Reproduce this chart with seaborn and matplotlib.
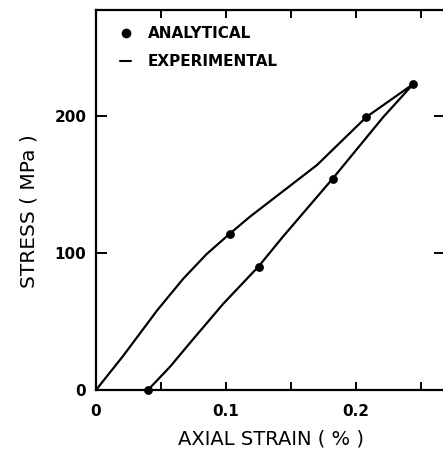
import matplotlib
matplotlib.use("Agg")
import matplotlib.pyplot as plt
import seaborn as sns
import pandas as pd
from matplotlib.lines import Line2D
from matplotlib.ticker import MultipleLocator

# experimental loop (loading branch then unloading branch)
load_strain = [0.0, 0.021, 0.047, 0.067, 0.085, 0.103, 0.118, 0.144, 0.170, 0.208, 0.244]
load_stress = [0, 25, 58, 81, 99, 114, 126, 145, 164, 199, 223]
unload_strain = [0.244, 0.221, 0.182, 0.144, 0.125, 0.098, 0.072, 0.057, 0.040]
unload_stress = [223, 199, 154, 112, 90, 63, 34, 17, 0]

# analytical points
ana_strain = [0.103, 0.208, 0.244, 0.182, 0.125, 0.040]
ana_stress = [114, 199, 223, 154, 90, 0]

exp_df = pd.DataFrame({
    "strain": load_strain + unload_strain,
    "stress": load_stress + unload_stress,
})
ana_df = pd.DataFrame({"strain": ana_strain, "stress": ana_stress})

sns.set_style("ticks")
plt.rcParams["font.family"] = ["DejaVu Sans"]
plt.rcParams["text.color"] = "black"
plt.rcParams["axes.labelcolor"] = "black"
plt.rcParams["xtick.color"] = "black"
plt.rcParams["ytick.color"] = "black"

fig = plt.figure(figsize=(4.43, 4.54), dpi=100)
ax = fig.add_axes([96 / 443, 64 / 454, 349 / 443, 380 / 454])

sns.lineplot(data=exp_df, x="strain", y="stress", sort=False,
             estimator=None, color="black", linewidth=1.6, ax=ax)
sns.scatterplot(data=ana_df, x="strain", y="stress", color="black",
                s=40, edgecolor="black", linewidth=0, zorder=5,
                clip_on=False, ax=ax)

ax.set_xlim(0, 349 / 1300)
ax.set_ylim(0, 277)

ax.xaxis.set_major_locator(MultipleLocator(0.1))
ax.xaxis.set_minor_locator(MultipleLocator(0.05))
ax.yaxis.set_major_locator(MultipleLocator(100))
ax.xaxis.set_major_formatter(lambda v, p: "0" if v == 0 else f"{v:.1f}")

ax.tick_params(which="both", direction="in", top=True, right=True,
               width=1.4, color="black")
ax.tick_params(axis="x", which="both", length=6, labelsize=11, pad=10)
ax.tick_params(axis="y", which="major", length=8, labelsize=11, pad=7)
for lab in ax.get_xticklabels() + ax.get_yticklabels():
    lab.set_fontweight("bold")

for s in ax.spines.values():
    s.set_linewidth(1.6)
    s.set_color("black")

ax.set_xlabel("AXIAL STRAIN ( % )", fontsize=14)
ax.set_ylabel("STRESS ( MPa )", fontsize=14.5)
ax.xaxis.set_label_coords(0.5, -0.105)
ax.yaxis.set_label_coords(-0.165, 0.47)

handles = [
    Line2D([], [], marker="o", ls="none", color="black", markersize=6),
    Line2D([], [], color="black", linewidth=1.5),
]
ax.legend(handles, ["ANALYTICAL", "EXPERIMENTAL"], loc="upper left",
          bbox_to_anchor=(0.07, 0.958), frameon=False,
          prop={"size": 11, "weight": "bold"},
          handlelength=0.7, handletextpad=1.1, labelspacing=0.88,
          borderaxespad=0, borderpad=0)

fig.savefig("out.png", dpi=100)
